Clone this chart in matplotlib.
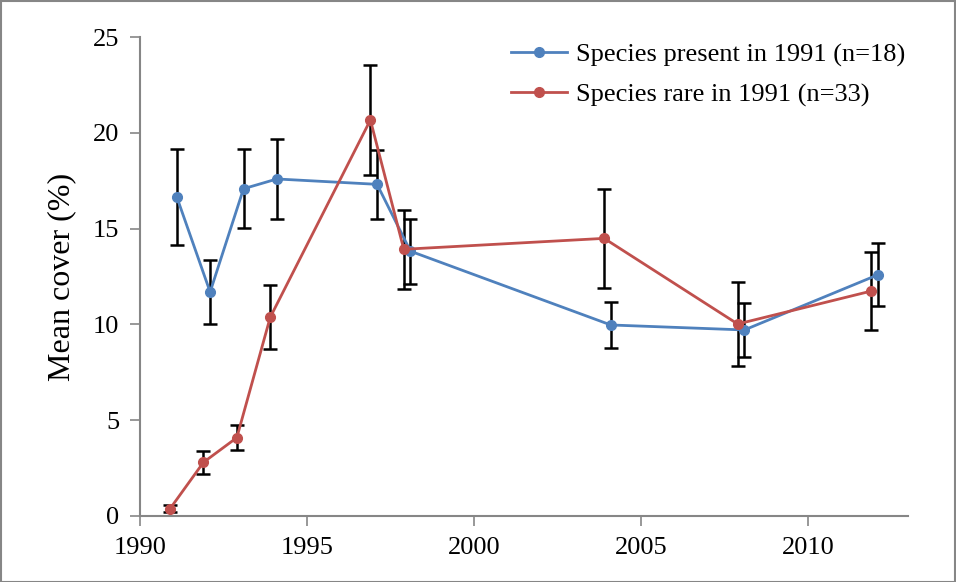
import matplotlib
matplotlib.use("Agg")
import matplotlib.pyplot as plt
from matplotlib.patches import Rectangle
import numpy as np

plt.rcParams['font.family'] = ['Liberation Serif', 'DejaVu Serif']

years = [1991, 1992, 1993, 1994, 1997, 1998, 2004, 2008, 2012]
present_mean = [16.66, 11.69, 17.08, 17.59, 17.31, 13.82, 9.97, 9.71, 12.59]
present_err = [2.50, 1.68, 2.05, 2.09, 1.81, 1.70, 1.22, 1.42, 1.65]
rare_mean = [0.38, 2.80, 4.09, 10.37, 20.67, 13.92, 14.49, 10.02, 11.74]
rare_err = [0.17, 0.60, 0.67, 1.67, 2.86, 2.05, 2.60, 2.18, 2.03]
label_present = "Species present in 1991 (n=18)"
label_rare = "Species rare in 1991 (n=33)"
x_ticks = [1990, 1995, 2000, 2005, 2010]
y_ticks = [0, 5, 10, 15, 20, 25]

OFFSET = 0.1  # horizontal dodge so the error bars do not overlap
BLUE = "#4F81BD"
RED = "#C0504D"
SPINE = "#868686"

fig = plt.figure(figsize=(9.56, 5.82), dpi=100)
ax = fig.add_axes([140/956, 1-516/582, (908-140)/956, (516-37)/582])

xp = np.array(years) + OFFSET
xr = np.array(years) - OFFSET

ax.errorbar(xp, present_mean, yerr=present_err, fmt='none', ecolor='black',
            elinewidth=1.8, capsize=5, capthick=1.8, zorder=2)
ax.errorbar(xr, rare_mean, yerr=rare_err, fmt='none', ecolor='black',
            elinewidth=1.8, capsize=5, capthick=1.8, zorder=2)
ax.plot(xp, present_mean, '-o', color=BLUE, lw=2.0, ms=7, label=label_present, zorder=3)
ax.plot(xr, rare_mean, '-o', color=RED, lw=2.0, ms=7, label=label_rare, zorder=4)

ax.set_xlim(1990, 2013)
ax.set_ylim(0, 25)
ax.set_xticks(x_ticks)
ax.set_yticks(y_ticks)
ax.tick_params(axis='both', direction='out', length=7, width=1.2, color=SPINE,
               labelsize=19, pad=8)
for s in ['top', 'right']:
    ax.spines[s].set_visible(False)
for s in ['left', 'bottom']:
    ax.spines[s].set_color(SPINE)
    ax.spines[s].set_linewidth(1.5)
ax.set_ylabel("Mean cover (%)", fontsize=23, labelpad=12)

leg = ax.legend(loc='upper right', bbox_to_anchor=(1.01, 1.01), frameon=False,
                fontsize=19, handlelength=2.1, labelspacing=0.62, borderaxespad=0.0,
                handletextpad=0.35)

fig.patches.append(Rectangle((0.5/956, 0.5/582), 1-1.5/956, 1-1.5/582,
                             transform=fig.transFigure, fill=False,
                             edgecolor=SPINE, lw=1.5))

fig.savefig("out.png", dpi=100)
